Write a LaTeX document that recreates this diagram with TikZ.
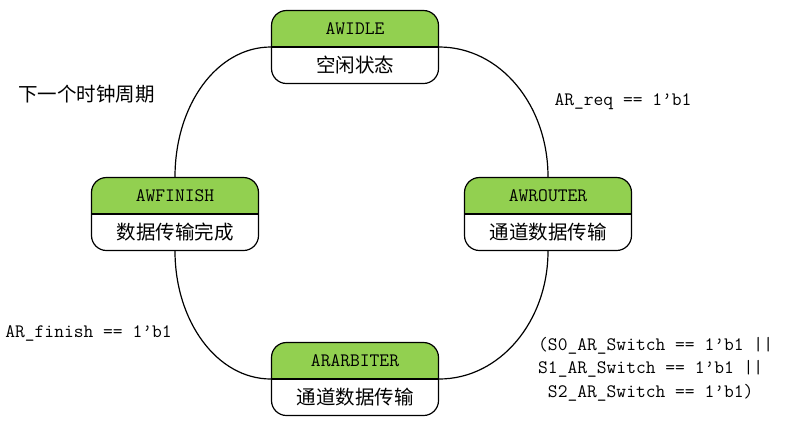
\documentclass[tikz,border=0pt]{standalone}
\usepackage{fontspec}
\newfontfamily\cjk{Noto Sans CJK SC}
\definecolor{hdrgreen}{HTML}{92D050}
\tikzset{
  statebox/.style={draw=black, line width=1.2bp, rounded corners=15bp,
    minimum width=167bp, minimum height=73bp, inner sep=0pt,
    path picture={
      \fill[hdrgreen, sharp corners] (path picture bounding box.north west) rectangle (path picture bounding box.east);
      \draw[line width=1.2bp, sharp corners] (path picture bounding box.west) -- (path picture bounding box.east);
    }},
  hdr/.style={font=\ttfamily\fontsize{19bp}{22bp}\selectfont, inner sep=0pt},
  body/.style={font=\cjk\fontsize{19.5bp}{22bp}\selectfont, inner sep=0pt},
  lbl/.style={font=\ttfamily\fontsize{19bp}{23.5bp}\selectfont, inner sep=0pt},
  cjklbl/.style={font=\cjk\fontsize{19.5bp}{22bp}\selectfont, inner sep=0pt},
  conn/.style={draw=black, line width=1.2bp}
}
\begin{document}
\begin{tikzpicture}[x=1bp,y=-1bp]
\useasboundingbox (0,0) rectangle (786,425);
% states
\node[statebox] (idle) at (355,47) {};
\node[statebox] (finish) at (175,214) {};
\node[statebox] (router) at (548,214) {};
\node[statebox] (arbiter) at (355,379) {};
% texts in boxes
\node[hdr] (idleh) at ([yshift=18.5bp]idle.center) {AWIDLE};
\node[body] (idleb) at ([yshift=-18bp]idle.center) {空闲状态};
\node[hdr] (finishh) at ([yshift=18.5bp]finish.center) {AWFINISH};
\node[body] (finishb) at ([yshift=-18bp]finish.center) {数据传输完成};
\node[hdr] (routerh) at ([yshift=18.5bp]router.center) {AWROUTER};
\node[body] (routerb) at ([yshift=-18bp]router.center) {通道数据传输};
\node[hdr] (arbiterh) at ([yshift=18.5bp]arbiter.center) {ARARBITER};
\node[body] (arbiterb) at ([yshift=-18bp]arbiter.center) {通道数据传输};
% connectors
\draw[conn] (idle.east) .. controls +(61,0) and +(0,-72) .. (router.north);
\draw[conn] (idle.west) .. controls +(-54,0) and +(0,-72) .. (finish.north);
\draw[conn] (router.south) .. controls +(0,70) and +(61,0) .. (arbiter.east);
\draw[conn] (finish.south) .. controls +(0,70) and +(-54,0) .. (arbiter.west);
% labels
\node[cjklbl] (lnext) at (86.5,94) {下一个时钟周期};
\node[lbl] (lreq) at (623,102) {AR\_req == 1’b1};
\node[lbl] (lfin) at (88.5,333) {AR\_finish == 1’b1};
\node[lbl, anchor=west, align=left] (lsw) at (538,369) {(S0\_AR\_Switch == 1’b1 ||\\S1\_AR\_Switch == 1’b1 ||\\\ S2\_AR\_Switch == 1’b1)};
\end{tikzpicture}
\end{document}
